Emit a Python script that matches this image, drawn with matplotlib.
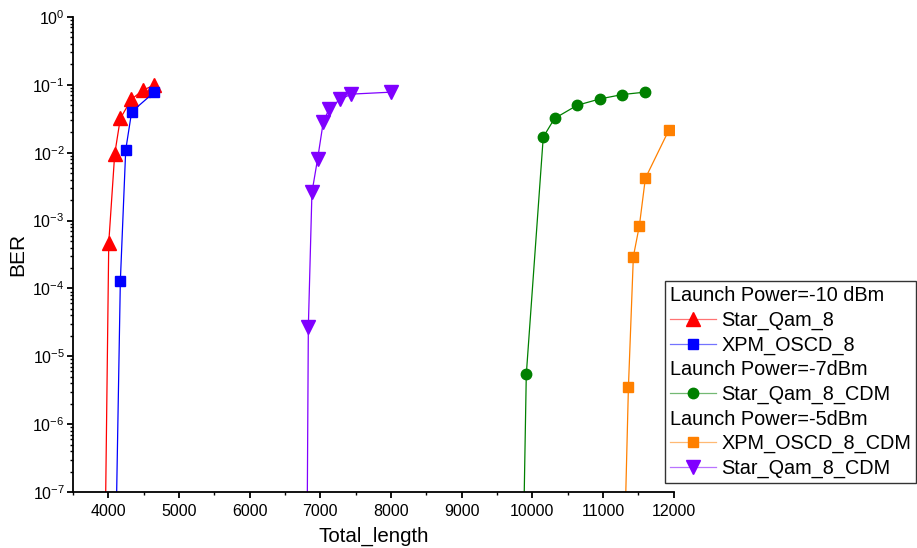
import matplotlib
matplotlib.use("Agg")
import matplotlib.pyplot as plt
from matplotlib.lines import Line2D
from matplotlib.ticker import MultipleLocator, LogLocator, NullFormatter
import numpy as np

plt.rcParams['font.family'] = ['Liberation Sans', 'DejaVu Sans']
plt.rcParams['mathtext.fontset'] = 'custom'
plt.rcParams['mathtext.rm'] = 'Liberation Sans'
plt.rcParams['mathtext.default'] = 'regular'

# first point of each series is where the curve runs into the 1e-7 floor (no marker)
# Launch Power = -10 dBm
sq8_len = [3963, 4006, 4090, 4170, 4325, 4486, 4645]
sq8_ber = [1e-7, 4.7e-4, 9.5e-3, 3.2e-2, 6.1e-2, 8.3e-2, 9.9e-2]
xpm8_len = [4118, 4170, 4246, 4330, 4650]
xpm8_ber = [1e-7, 1.28e-4, 1.1e-2, 4.0e-2, 7.8e-2]
# Launch Power = -7 dBm
sq8cdm7_len = [9885, 9914, 10154, 10314, 10634, 10955, 11274, 11590]
sq8cdm7_ber = [1e-7, 5.4e-6, 1.7e-2, 3.2e-2, 5.0e-2, 6.2e-2, 7.2e-2, 7.8e-2]
# Launch Power = -5 dBm
xpm8cdm_len = [11322, 11359, 11429, 11514, 11599, 11929]
xpm8cdm_ber = [1e-7, 3.5e-6, 2.95e-4, 8.4e-4, 4.2e-3, 2.13e-2]
sq8cdm5_len = [6816, 6830, 6881, 6962, 7042, 7122, 7277, 7438, 7997]
sq8cdm5_ber = [1e-7, 2.7e-5, 2.6e-3, 8.2e-3, 2.86e-2, 4.35e-2, 6.1e-2, 7.3e-2, 7.8e-2]

fig = plt.figure(figsize=(9.17, 5.48), dpi=100)
ax = fig.add_axes([0.0796, 0.1022, 0.6551, 0.8668])

series = [
    (sq8_len, sq8_ber, '#FF0000', '^', 9.5),
    (xpm8_len, xpm8_ber, '#0000FF', 's', 6.5),
    (sq8cdm7_len, sq8cdm7_ber, '#008000', 'o', 7.5),
    (xpm8cdm_len, xpm8cdm_ber, '#FF8000', 's', 6.5),
    (sq8cdm5_len, sq8cdm5_ber, '#8000FF', 'v', 9.5),
]
handles = []
for xs, ys, c, m, ms in series:
    ax.plot(xs, ys, color=c, lw=0.9, marker=m, ms=ms, mec=c, mfc=c,
            markevery=slice(1, None))
    line_h = Line2D([], [], color=c, lw=0.9, alpha=0.55)
    mark_h = Line2D([], [], lw=0, marker=m, ms=ms, mec=c, mfc=c)
    handles.append((line_h, mark_h))

ax.set_yscale('log')
ax.set_xlim(3500, 12000)
ax.set_ylim(1e-7, 1)
ax.set_xticks([4000, 5000, 6000, 7000, 8000, 9000, 10000, 11000, 12000])
ax.xaxis.set_minor_locator(MultipleLocator(500))
ax.yaxis.set_major_locator(LogLocator(base=10, numticks=20))
ax.yaxis.set_minor_locator(LogLocator(base=10, subs=np.arange(2, 10), numticks=20))
ax.yaxis.set_minor_formatter(NullFormatter())

for s in ['top', 'right']:
    ax.spines[s].set_visible(False)
for s in ['left', 'bottom']:
    ax.spines[s].set_linewidth(1.3)
ax.tick_params(which='major', direction='out', length=4.5, width=1.3, labelsize=11.5)
ax.tick_params(which='minor', direction='out', length=2.5, width=1.0)
ax.tick_params(axis='x', which='major', pad=4)
ax.tick_params(axis='y', which='major', pad=1.5)

ax.set_xlabel('Total_length', fontsize=14.8, labelpad=6)
ax.set_ylabel('BER', fontsize=15, labelpad=4)

# legend with group headers that carry no handle
headers = ['Launch Power=-10 dBm', 'Launch Power=-7dBm', 'Launch Power=-5dBm']
blank = Line2D([], [], lw=0)
leg_handles = [blank, handles[0], handles[1], blank, handles[2],
               blank, handles[3], handles[4]]
leg_labels = [headers[0], 'Star_Qam_8', 'XPM_OSCD_8', headers[1], 'Star_Qam_8_CDM',
              headers[2], 'XPM_OSCD_8_CDM', 'Star_Qam_8_CDM']
leg = ax.legend(leg_handles, leg_labels, loc='upper left',
                bbox_to_anchor=(0.725, 0.487), bbox_transform=fig.transFigure,
                borderaxespad=0, fontsize=14.3, numpoints=1, handlelength=2.35,
                handletextpad=0.25, labelspacing=0.28, borderpad=0.25,
                fancybox=False, framealpha=1, edgecolor='#333333')
leg.get_frame().set_linewidth(1.0)
for col in leg._legend_handle_box.get_children():
    for row in col.get_children():
        kids = row.get_children()
        if len(kids) == 2 and kids[1].get_text() in headers:
            row._children = [kids[1]]

fig.savefig('out.png', dpi=100)
